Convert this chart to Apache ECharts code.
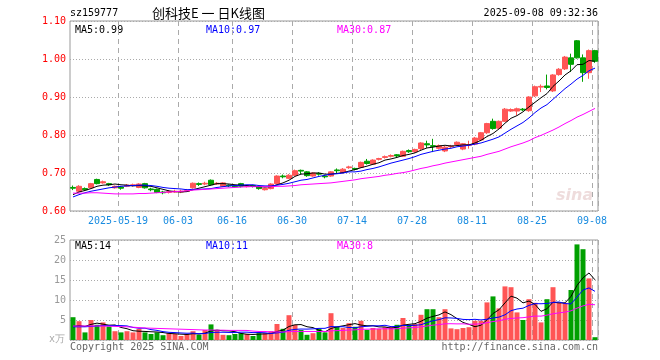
<!DOCTYPE html>
<html><head><meta charset="utf-8">
<script src="https://cdn.jsdelivr.net/npm/echarts@6/dist/echarts.min.js"></script>
<style>html,body{margin:0;padding:0;background:#fff}#c{width:660px;height:360px}</style>
</head><body><div id="c"></div><script>
const dates = ['05-07','05-08','05-09','05-12','05-13','05-14','05-15','05-16','05-19','05-20','05-21','05-22','05-23','05-26','05-27','05-28','05-29','05-30','06-03','06-04','06-05','06-06','06-09','06-10','06-11','06-12','06-13','06-16','06-17','06-18','06-19','06-20','06-23','06-24','06-25','06-26','06-27','06-30','07-01','07-02','07-03','07-04','07-07','07-08','07-09','07-10','07-11','07-14','07-15','07-16','07-17','07-18','07-21','07-22','07-23','07-24','07-25','07-28','07-29','07-30','07-31','08-01','08-04','08-05','08-06','08-07','08-08','08-11','08-12','08-13','08-14','08-15','08-18','08-19','08-20','08-21','08-22','08-25','08-26','08-27','08-28','08-29','09-01','09-02','09-03','09-04','09-05','09-08'];
const tickDates = ['05-19','06-03','06-16','06-30','07-14','07-28','08-11','08-25','09-08'];
const tickText = ['2025-05-19','06-03','06-16','06-30','07-14','07-28','08-11','08-25','09-08'];
const priceTicks = [0.6, 1.1, 0.1];
const volTicks = [0, 25, 5];

const open = [.662,.652,.659,.661,.683,.674,.672,.661,.663,.665,.667,.662,.672,.658,.657,.650,.649,.650,.650,.652,.661,.672,.671,.681,.671,.665,.668,.666,.672,.664,.667,.664,.656,.659,.672,.692,.686,.694,.707,.703,.692,.699,.692,.692,.708,.701,.714,.712,.715,.731,.723,.736,.741,.744,.748,.744,.759,.756,.764,.777,.772,.765,.758,.769,.775,.763,.773,.776,.787,.806,.836,.818,.836,.863,.863,.868,.864,.903,.926,.929,.916,.959,.974,1.003,1.048,1.003,.964,1.022];
const close = [.660,.665,.656,.672,.672,.677,.669,.665,.660,.668,.669,.671,.661,.656,.649,.648,.651,.652,.652,.654,.673,.670,.673,.669,.673,.674,.666,.664,.665,.666,.665,.659,.659,.671,.692,.690,.694,.706,.705,.693,.700,.697,.690,.703,.706,.710,.716,.710,.728,.725,.734,.738,.743,.746,.745,.757,.756,.762,.779,.774,.770,.772,.768,.771,.781,.777,.775,.792,.806,.830,.817,.836,.868,.867,.869,.866,.900,.927,.928,.925,.958,.973,1.005,.986,1.003,.964,1.022,.994];
const low = [.655,.650,.653,.660,.670,.672,.666,.659,.656,.663,.664,.660,.659,.652,.647,.644,.646,.648,.647,.650,.659,.666,.668,.667,.669,.663,.663,.661,.662,.662,.662,.656,.654,.657,.670,.686,.684,.692,.697,.690,.690,.693,.686,.690,.700,.699,.711,.707,.713,.722,.721,.733,.738,.741,.742,.742,.753,.753,.760,.766,.755,.762,.755,.766,.772,.760,.764,.773,.784,.803,.814,.815,.834,.861,.852,.863,.861,.900,.913,.920,.913,.956,.971,.966,1.001,.940,.948,.990];
const high = [.667,.668,.662,.674,.685,.680,.674,.667,.666,.671,.672,.673,.674,.661,.659,.653,.655,.656,.656,.658,.675,.675,.677,.683,.676,.676,.670,.668,.674,.668,.669,.666,.661,.673,.694,.696,.697,.709,.709,.705,.702,.702,.695,.705,.712,.713,.719,.714,.730,.737,.736,.740,.746,.749,.750,.759,.762,.764,.781,.785,.790,.775,.771,.774,.783,.779,.785,.795,.808,.832,.843,.838,.871,.870,.872,.871,.902,.930,.933,.959,.960,.976,1.008,1.014,1.050,1.012,1.025,1.024];
const ma5 = [.643,.650,.654,.659,.665,.668,.669,.671,.669,.668,.666,.667,.666,.665,.661,.657,.653,.651,.650,.651,.656,.660,.664,.668,.672,.672,.671,.669,.668,.667,.665,.664,.663,.664,.669,.674,.681,.691,.697,.698,.700,.700,.697,.697,.699,.701,.705,.709,.714,.718,.723,.727,.734,.737,.741,.746,.749,.753,.760,.766,.768,.771,.773,.771,.772,.774,.774,.779,.786,.796,.804,.816,.831,.844,.851,.861,.874,.886,.898,.909,.928,.942,.958,.969,.985,.986,.996,.994];
const ma10 = [.637,.643,.648,.652,.655,.658,.661,.663,.665,.666,.667,.668,.668,.667,.665,.662,.660,.659,.658,.656,.657,.657,.658,.659,.662,.664,.666,.667,.668,.669,.669,.667,.666,.666,.668,.670,.673,.677,.681,.683,.687,.691,.694,.697,.698,.700,.703,.703,.705,.709,.712,.716,.721,.726,.730,.734,.738,.743,.749,.753,.757,.760,.763,.765,.769,.771,.773,.776,.779,.784,.789,.795,.805,.815,.824,.833,.845,.859,.871,.880,.894,.908,.922,.934,.947,.957,.969,.976];
const ma30 = [.647,.647,.647,.648,.648,.647,.646,.645,.645,.645,.645,.646,.646,.647,.648,.649,.650,.651,.652,.653,.655,.656,.657,.658,.659,.660,.661,.662,.663,.664,.664,.664,.664,.664,.665,.665,.666,.667,.669,.670,.671,.672,.673,.674,.676,.678,.680,.682,.685,.687,.689,.691,.694,.696,.699,.701,.704,.708,.712,.715,.719,.722,.726,.729,.732,.735,.738,.741,.744,.749,.753,.757,.763,.769,.774,.779,.785,.793,.799,.806,.813,.821,.830,.838,.847,.854,.862,.870];
const volume = [5.7,4.7,1.9,5.0,3.8,4.4,3.4,2.2,1.9,2.2,1.9,2.8,1.9,1.5,1.9,1.2,1.7,1.5,1.0,1.5,2.2,1.3,2.5,3.9,2.5,1.3,1.2,1.5,1.7,1.5,1.0,1.7,1.7,2.2,4.0,2.8,6.2,3.8,2.5,1.3,1.7,2.8,1.9,6.7,3.3,3.0,4.2,3.3,4.8,2.5,3.0,2.8,3.2,3.3,3.8,5.5,3.8,4.0,6.3,7.7,7.7,5.7,7.7,2.9,2.7,3.0,3.2,4.8,4.8,9.4,10.9,7.9,13.4,13.2,6.9,5.0,10.2,9.3,4.4,10.2,13.2,9.3,9.3,12.5,23.9,22.7,15.4,0.7];
const vma5 = [3.4,3.6,3.4,3.9,4.22,3.96,3.70,3.76,3.14,2.82,2.32,2.20,2.14,2.06,2.00,1.86,1.64,1.56,1.46,1.38,1.58,1.50,1.70,2.28,2.48,2.30,2.28,2.08,1.64,1.44,1.38,1.48,1.52,1.62,2.12,2.48,3.38,3.80,3.86,3.32,3.10,2.42,2.04,2.88,3.28,3.54,3.82,4.10,3.72,3.56,3.56,3.28,3.26,2.96,3.22,3.72,3.92,4.08,4.68,5.46,5.90,6.28,7.02,6.34,5.34,4.40,3.90,3.32,3.70,5.04,6.62,7.56,9.28,10.96,10.46,9.28,9.74,8.92,7.16,7.82,9.46,9.28,9.28,10.90,13.64,15.54,16.76,15.04];
const vma10 = [3.3,3.3,3.3,3.4,3.5,3.6,3.6,3.6,3.6,3.52,3.14,2.95,2.95,2.60,2.41,2.09,1.92,1.85,1.76,1.69,1.72,1.57,1.63,1.87,1.93,1.94,1.89,1.89,1.96,1.96,1.84,1.88,1.80,1.63,1.78,1.93,2.43,2.66,2.74,2.72,2.79,2.90,2.92,3.37,3.30,3.32,3.12,3.07,3.30,3.42,3.55,3.55,3.68,3.34,3.39,3.64,3.60,3.67,3.82,4.34,4.81,5.10,5.55,5.51,5.40,5.15,5.09,5.17,5.02,5.19,5.51,5.73,6.30,7.33,7.75,7.95,8.65,9.10,9.06,9.14,9.37,9.51,9.10,9.03,10.73,12.50,13.02,12.16];
const vma30 = [3.5,3.5,3.5,3.5,3.5,3.5,3.45,3.4,3.35,3.3,3.2,3.1,3.0,2.95,2.9,2.85,2.8,2.75,2.7,2.65,2.6,2.55,2.5,2.5,2.45,2.45,2.4,2.4,2.4,2.39,2.23,2.13,2.13,2.03,2.04,1.99,2.08,2.13,2.15,2.12,2.12,2.12,2.12,2.29,2.34,2.40,2.48,2.54,2.67,2.70,2.73,2.78,2.80,2.78,2.82,2.96,3.05,3.13,3.29,3.49,3.72,3.85,4.05,4.07,4.03,4.04,3.94,3.97,4.05,4.32,4.62,4.79,5.18,5.39,5.51,5.58,5.78,5.98,5.97,6.22,6.56,6.78,6.98,7.29,7.96,8.53,8.92,8.81];

const UP = '#ff5555', DOWN = '#00a000';
const mono = "'DejaVu Sans Mono','Liberation Mono',monospace";
const tickIdx = tickDates.map(d => dates.indexOf(d));
const isTick = i => tickIdx.indexOf(i) >= 0;
const kData = dates.map((d, i) => [open[i], close[i], low[i], high[i]]);
const volData = volume.map((v, i) => ({value: v, itemStyle: {color: close[i] >= open[i] ? UP : DOWN}}));
const dashV = {show: true, interval: (i) => isTick(i), lineStyle: {color: '#aaa', type: [5, 4], width: 1}};
const line = (data, color, xi, yi) => ({type: 'line', data, xAxisIndex: xi, yAxisIndex: yi, symbol: 'none', showSymbol: false,
  lineStyle: {color, width: 1}, itemStyle: {color}, silent: true, z: 5});
const txt = (x, y, text, fill, extra) => ({type: 'text', x, y, style: Object.assign({text, fill, font: '10px ' + mono, verticalAlign: 'middle'}, extra || {})});

const chart = echarts.init(document.getElementById('c'), null, {renderer: 'canvas'});
chart.setOption({
  animation: false,
  backgroundColor: '#fff',
  grid: [
    {left: 70, top: 21, width: 528, height: 190, show: true, borderColor: '#999', borderWidth: 1},
    {left: 70, top: 240, width: 528, height: 100, show: true, borderColor: '#999', borderWidth: 1}
  ],
  xAxis: [
    {type: 'category', gridIndex: 0, data: dates, boundaryGap: true, axisLine: {show: false}, axisTick: {show: false},
      axisLabel: {show: true, interval: (i) => isTick(i), formatter: (v) => tickText[tickDates.indexOf(v)],
        color: '#1a8ce0', fontFamily: mono, fontSize: 10, margin: 5, padding: [0, 6, 0, 0]},
      splitLine: dashV},
    {type: 'category', gridIndex: 1, data: dates, boundaryGap: true, axisLine: {show: false}, axisTick: {show: false},
      axisLabel: {show: false}, splitLine: dashV}
  ],
  yAxis: [
    {type: 'value', gridIndex: 0, min: priceTicks[0], max: priceTicks[1], interval: priceTicks[2], axisLine: {show: false}, axisTick: {show: false},
      axisLabel: {color: '#ff0000', fontFamily: mono, fontSize: 10, margin: 4, formatter: (v) => v.toFixed(2)},
      splitLine: {lineStyle: {color: '#aaa', type: [1, 2], width: 1}}},
    {type: 'value', gridIndex: 1, min: volTicks[0], max: volTicks[1], interval: volTicks[2], axisLine: {show: false}, axisTick: {show: false},
      axisLabel: {color: '#999', fontFamily: mono, fontSize: 10, margin: 4, formatter: (v) => v === 0 ? '' : String(v)},
      splitLine: {lineStyle: {color: '#aaa', type: [1, 2], width: 1}}}
  ],
  series: [
    {type: 'candlestick', xAxisIndex: 0, yAxisIndex: 0, data: kData, barWidth: 5, silent: true,
      itemStyle: {color: UP, color0: DOWN, borderColor: UP, borderColor0: DOWN, borderWidth: 1}},
    line(ma5, '#000000', 0, 0), line(ma10, '#0000ff', 0, 0), line(ma30, '#ff00ff', 0, 0),
    {type: 'bar', xAxisIndex: 1, yAxisIndex: 1, data: volData, barWidth: 5, silent: true},
    line(vma5, '#000000', 1, 1), line(vma10, '#0000ff', 1, 1), line(vma30, '#ff00ff', 1, 1)
  ],
  graphic: [
    txt(70, 13, 'sz159777', '#000'),
    {type: 'text', x: 152, y: 13, style: {text: '创科技E 一 日K线图', fill: '#000', font: '13px "Noto Sans CJK SC"', verticalAlign: 'middle'}},
    txt(598, 13, '2025-09-08 09:32:36', '#000', {align: 'right'}),
    txt(75, 30, 'MA5:0.99', '#000'),
    txt(206, 30, 'MA10:0.97', '#0000ff'),
    txt(337, 30, 'MA30:0.87', '#ff00ff'),
    txt(75, 246, 'MA5:14', '#000'),
    txt(206, 246, 'MA10:11', '#0000ff'),
    txt(337, 246, 'MA30:8', '#ff00ff'),
    txt(49, 339, 'x万', '#aaa'),
    txt(70, 347, 'Copyright 2025 SINA.COM', '#666'),
    txt(598, 347, 'http://finance.sina.com.cn', '#666', {align: 'right'}),
    {type: 'text', x: 556, y: 196, style: {text: 'sina', fill: 'rgba(200,140,140,0.30)', font: 'italic bold 16px "DejaVu Sans"', verticalAlign: 'middle'}}
  ]
});
</script></body></html>
